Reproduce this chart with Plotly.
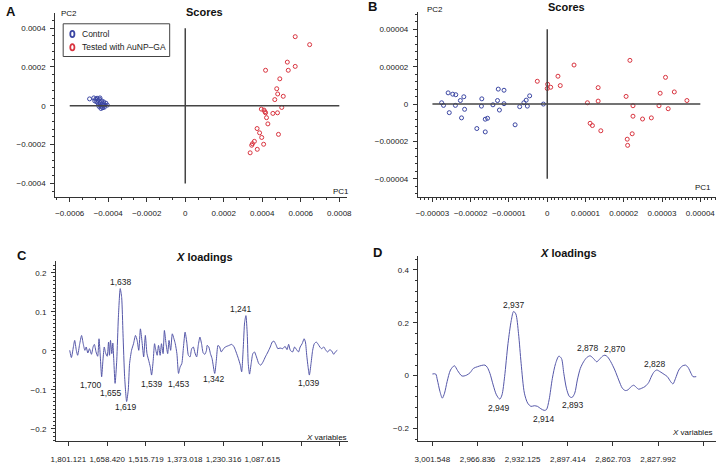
import plotly.graph_objects as go

FONT = "Arial, Liberation Sans, sans-serif"
BLUE = "#3b46a3"
RED = "#d9343f"
LINE = "#5557a8"
AX = "#333333"

# ---------------- Panel A: scores ----------------
a_ctrl_pc1 = [-0.000497, -0.000475, -0.00047, -0.000458, -0.000453, -0.000446, -0.000441, -0.000451,
              -0.000444, -0.000436, -0.000431, -0.000424, -0.000419, -0.000412, -0.000405, -0.000429,
              -0.000438, -0.000434, -0.000443, -0.000448, -0.000427, -0.00042, -0.00046, -0.000465]
a_ctrl_pc2 = [0.0000356, 0.0000407, 0.0000254, 0.000039, 0.0000288, 0.0000339, 0.000017, 0.0000102,
              0.0000034, -0.0000034, 0.0000102, 0.0000203, 0.0000034, 0.0000136, 0.0000034, -0.0000102,
              -0.0000136, 0.0000254, 0.0000407, -0.000003, 0.0, -0.000007, 0.00002, 0.000034]
a_test_pc1 = [0.000571, 0.000646, 0.00053, 0.000571, 0.000535, 0.000417, 0.000491, 0.000475, 0.00048,
              0.000509, 0.000465, 0.000501, 0.000395, 0.000409, 0.000414, 0.000417, 0.000455, 0.000479,
              0.000422, 0.000429, 0.000373, 0.000386, 0.000397, 0.000484, 0.000359, 0.000349, 0.000345,
              0.000407, 0.000374, 0.000337]
a_test_pc2 = [0.000356, 0.000315, 0.000225, 0.000203, 0.000183, 0.000183, 0.000139, 0.000088, 0.000061,
              0.000049, 0.000032, -0.0000085, -0.000017, -0.000022, -0.000031, -0.000036, -0.000039,
              -0.000036, -0.000061, -0.000093, -0.000117, -0.000139, -0.000163, -0.000147, -0.000183,
              -0.000195, -0.000203, -0.000198, -0.000224, -0.000242]
a_xticks = [-0.0006, -0.0004, -0.0002, 0, 0.0002, 0.0004, 0.0006, 0.0008]
a_xtext = ["\u22120.0006", "\u22120.0004", "\u22120.0002", "0", "0.0002", "0.0004", "0.0006", "0.0008"]
a_yticks = [-0.0004, -0.0002, 0, 0.0002, 0.0004]
a_ytext = ["\u22120.0004", "\u22120.0002", "0", "0.0002", "0.0004"]
group_names = ["Control", "Tested with AuNP\u2013GA"]

# ---------------- Panel B: scores ----------------
b_ctrl_pc1 = [-0.0000276, -0.0000271, -0.0000259, -0.0000256, -0.0000247, -0.0000239, -0.000024,
              -0.0000227, -0.0000224, -0.0000218, -0.0000216, -0.0000184, -0.0000171, -0.0000172,
              -0.0000162, -0.0000156, -0.0000162, -0.0000142, -0.000013, -0.0000128, -0.0000125,
              -0.0000113, -0.0000113, -0.0000084, -0.0000072, -0.0000061, -0.0000055, -0.0000052,
              -0.0000046, -0.000001]
b_ctrl_pc2 = [0.0000007, -0.0000007, 0.000006, -0.0000046, 0.0000053, 0.000005, -0.0000007,
              0.0000019, -0.0000074, 0.0000039, -0.0000028, -0.0000131, 0.0000028, -0.0000011,
              -0.0000081, -0.0000076, -0.0000149, -0.0000004, 0.0000019, 0.000008, -0.0000032,
              0.0000074, 0.0000002, -0.0000111, -0.0000014, 0.0000007, 0.0000021, -0.0000011,
              0.0000044, 0.0]
b_test_pc1 = [-0.0000026, 0.0000001, 0.0, 0.0000009, 0.0000028, 0.0000034, 0.000007, 0.0000105,
              0.0000112, 0.0000118, 0.0000133, 0.0000133, 0.000014, 0.0000206, 0.0000209, 0.000021,
              0.0000216, 0.0000222, 0.0000224, 0.0000224, 0.0000249, 0.0000272, 0.0000292, 0.0000295,
              0.0000309, 0.0000316, 0.0000332, 0.0000365]
b_test_pc2 = [0.0000122, 0.0000106, 0.0000083, 0.000009, 0.0000149, 0.0000099, 0.0000209, 0.0000007,
              -0.0000103, -0.0000115, 0.0000088, 0.0000016, -0.0000143, 0.0000041, -0.0000188, -0.0000221,
              0.0000234, -0.0000159, -0.0000065, -0.0000009, -0.000008, -0.0000074, -0.0000009,
              0.0000058, 0.0000143, -0.0000025, 0.0000065, 0.0000019]
b_xticks = [-0.00003, -0.00002, -0.00001, 0, 0.00001, 0.00002, 0.00003, 0.00004]
b_xtext = ["\u22120.00003", "\u22120.00002", "\u22120.00001", "0", "0.00001", "0.00002", "0.00003", "0.00004"]
b_yticks = [-0.00004, -0.00002, 0, 0.00002, 0.00004]
b_ytext = ["\u22120.00004", "\u22120.00002", "0", "0.00002", "0.00004"]

# ---------------- Panel C: X loadings (fingerprint region) ----------------
c_var = [1796.2, 1790.1, 1782.8, 1778.0, 1772.0, 1767.1, 1759.9, 1752.6, 1746.6, 1740.5, 1735.7, 1729.6,
         1723.6, 1716.3, 1710.3, 1705.5, 1699.4, 1693.4, 1688.5, 1683.7, 1678.8, 1674.0, 1669.2, 1664.3,
         1658.3, 1653.4, 1649.8, 1646.2, 1641.4, 1637.7, 1634.1, 1629.3, 1623.2, 1617.2, 1610.5, 1605.1,
         1600.2, 1594.2, 1586.9, 1580.9, 1576.0, 1568.8, 1561.5, 1554.3, 1548.2, 1542.2, 1536.2, 1530.1,
         1524.1, 1518.0, 1512.0, 1505.9, 1499.9, 1495.0, 1489.0, 1484.1, 1479.3, 1474.5, 1469.6, 1463.6,
         1458.7, 1452.7, 1447.9, 1441.8, 1435.8, 1430.9, 1424.9, 1418.8, 1412.8, 1407.9, 1401.9, 1395.9,
         1389.8, 1383.8, 1377.7, 1371.7, 1365.6, 1359.6, 1353.5, 1347.5, 1341.4, 1335.4, 1329.3, 1323.3,
         1317.2, 1311.2, 1305.1, 1299.1, 1293.0, 1290.6, 1284.6, 1278.5, 1272.5, 1262.8, 1256.8, 1250.7,
         1244.7, 1238.6, 1232.6, 1224.1, 1212.0, 1199.9, 1191.4, 1184.2, 1175.7, 1168.5, 1163.6, 1157.6,
         1152.7, 1147.9, 1143.1, 1139.4, 1134.6, 1128.6, 1122.5, 1116.5, 1109.2, 1100.7, 1093.5, 1085.0,
         1076.5, 1066.9, 1058.4, 1051.2, 1045.1, 1037.9, 1030.6, 1022.1, 1012.5, 1004.0, 996.7, 990.7,
         984.6, 976.2, 968.9, 961.7, 954.4, 948.4, 941.1, 933.8, 929.0, 924.2, 919.3, 914.5, 908.4,
         902.4, 896.4, 889.1, 881.8, 875.8, 869.7, 861.3, 854.0, 846.8, 839.5, 832.3, 825.0, 819.0, 811.7]
c_load = [0.0017, -0.0169, 0.0102, 0.0271, 0.0017, -0.011, 0.0169, 0.0398, 0.0186, 0.0017, 0.0102, -0.0051,
          0.0059, -0.0085, 0.0102, 0.0169, -0.0025, -0.0136, 0.0313, -0.0152, -0.0661, -0.0237, 0.0102,
          -0.0051, -0.0136, 0.0229, -0.011, 0.0271, -0.0068, 0.0203, -0.0237, -0.083, -0.0237, 0.0864,
          0.160, 0.1372, 0.044, -0.0661, -0.1296, -0.0999, -0.0322, 0.0017, 0.0186, 0.0398, 0.0271, 0.0017,
          0.0567, 0.0229, -0.0152, 0.0398, -0.0068, -0.0237, -0.0407, -0.0618, -0.0237, 0.0186, 0.0017,
          -0.011, 0.0144, -0.011, 0.0186, -0.0068, 0.0525, 0.0186, -0.0068, 0.0271, 0.0017, 0.044, 0.0313,
          0.0186, -0.0068, -0.0576, -0.0407, -0.0322, 0.0102, 0.0483, 0.0229, -0.011, -0.0152, 0.0059,
          0.0102, -0.0051, -0.0152, 0.0144, 0.0356, 0.0186, -0.0051, -0.0085, 0.0017, 0.0144, 0.0102,
          -0.0068, -0.0195, -0.0576, -0.0237, 0.0144, 0.0102, -0.0025, 0.0034, 0.0102, 0.0136, 0.0169,
          0.0102, -0.0025, -0.0195, -0.0364, -0.0534, 0.0102, 0.0737, 0.0906, 0.044, -0.0322, -0.0593,
          -0.0322, -0.0068, -0.0025, -0.0152, -0.0322, -0.0364, -0.028, -0.0152, -0.0025, 0.0102, 0.0229,
          0.0254, 0.0169, 0.0059, 0.0076, 0.0059, 0.0119, 0.0034, 0.0169, 0.0017, -0.0025, 0.0102, 0.0034,
          -0.0025, 0.0102, 0.0186, 0.0313, 0.0229, -0.011, -0.0407, -0.0618, -0.0322, 0.0017, 0.0186,
          0.0229, 0.0169, 0.0102, 0.0059, 0.0102, 0.0017, -0.0025, 0.0034, 0.0, -0.0085, -0.0025, 0.0017]
c_xticks = [1801.121, 1658.420, 1515.719, 1373.018, 1230.316, 1087.615, 944.914, 802.213]
c_xtext = ["1,801.121", "1,658.420", "1,515.719", "1,373.018", "1,230.316", "1,087.615", "", ""]
c_yticks = [-0.2, -0.1, 0, 0.1, 0.2]
c_ytext = ["\u22120.2", "\u22120.1", "0", "0.1", "0.2"]
c_peak_text = ["1,638", "1,700", "1,655", "1,619", "1,539", "1,453", "1,342", "1,241", "1,039"]
c_peak_x = [1608.8, 1717.7, 1645.1, 1589.5, 1495.1, 1393.5, 1264.1, 1166.1, 914.6]
c_peak_y = [0.177, -0.088, -0.1076, -0.1448, -0.0855, -0.0855, -0.0728, 0.1067, -0.083]

# ---------------- Panel D: X loadings (C-H stretching region) ----------------
d_var = [3001.5, 2999.0, 2997.7, 2995.7, 2993.9, 2992.2, 2990.2, 2987.6, 2984.6, 2982.1, 2978.8, 2975.5,
         2972.5, 2970.0, 2966.9, 2963.6, 2961.1, 2959.3, 2957.3, 2954.8, 2952.3, 2949.7, 2948.0, 2946.0,
         2943.4, 2940.9, 2939.1, 2937.4, 2935.3, 2933.3, 2930.8, 2928.3, 2925.7, 2923.2, 2920.7, 2918.2,
         2915.6, 2913.9, 2911.8, 2909.3, 2906.8, 2904.3, 2902.3, 2900.5, 2898.5, 2896.2, 2894.2, 2892.1,
         2890.1, 2887.8, 2885.3, 2882.8, 2880.3, 2877.7, 2875.2, 2873.2, 2870.7, 2868.9, 2866.9, 2864.4,
         2861.3, 2858.3, 2855.5, 2853.2, 2851.2, 2848.7, 2846.7, 2844.9, 2842.9, 2840.6, 2838.1, 2835.3,
         2833.0, 2831.0, 2829.0, 2826.5, 2823.4, 2820.9, 2818.4, 2816.6, 2814.6, 2812.1, 2809.5, 2807.0,
         2805.0, 2802.7, 2801.2, 2798.7]
d_load = [0.0063, 0.0063, -0.0163, -0.06, -0.085, -0.0663, -0.0225, 0.0213, 0.0375, 0.0188, -0.0013,
          0.0013, 0.0113, 0.0275, 0.0338, 0.0388, 0.04, 0.0313, 0.0088, -0.035, -0.0725, -0.0888, -0.0725,
          -0.0038, 0.1213, 0.2088, 0.243, 0.2338, 0.1588, 0.0463, -0.0663, -0.1038, -0.1163, -0.1138,
          -0.1163, -0.125, -0.1313, -0.1288, -0.0913, -0.01, 0.0463, 0.0738, 0.065, 0.0088, -0.0475,
          -0.0788, -0.0825, -0.0663, -0.0163, 0.0275, 0.0525, 0.0688, 0.075, 0.065, 0.0525, 0.0613, 0.0738,
          0.0775, 0.0713, 0.0525, 0.0213, -0.0163, -0.0475, -0.0563, -0.0538, -0.0413, -0.0363, -0.0438,
          -0.0513, -0.0475, -0.0413, -0.0263, -0.0013, 0.015, 0.0213, 0.015, 0.005, -0.0038, -0.0225,
          -0.0313, -0.01, 0.0213, 0.0363, 0.04, 0.0313, 0.0088, -0.0038, -0.0038]
d_xticks = [3001.548, 2966.836, 2932.125, 2897.414, 2862.703, 2827.992, 2793.281]
d_xtext = ["3,001.548", "2,966.836", "2,932.125", "2,897.414", "2,862.703", "2,827.992", ""]
d_yticks = [-0.2, 0, 0.2, 0.4]
d_ytext = ["\u22120.2", "0", "0.2", "0.4"]
d_peak_text = ["2,937", "2,949", "2,914", "2,893", "2,878", "2,870", "2,828"]
d_peak_x = [2938.5, 2950.1, 2915.8, 2893.8, 2882.2, 2861.3, 2830.3]
d_peak_y = [0.266, -0.121, -0.164, -0.111, 0.105, 0.101, 0.045]

W, H = 722, 464


def px(x):
    return x / W


def py(y):
    return 1 - y / H


fig = go.Figure()

mk = dict(symbol="circle-open", size=4, line=dict(width=1))
# Panel A
fig.add_trace(go.Scatter(x=a_ctrl_pc1, y=a_ctrl_pc2, mode="markers", xaxis="x", yaxis="y",
                         name=group_names[0], marker=dict(color=BLUE, **mk)))
fig.add_trace(go.Scatter(x=a_test_pc1, y=a_test_pc2, mode="markers", xaxis="x", yaxis="y",
                         name=group_names[1], marker=dict(color=RED, **mk)))
# Panel B
fig.add_trace(go.Scatter(x=b_ctrl_pc1, y=b_ctrl_pc2, mode="markers", xaxis="x2", yaxis="y2",
                         name=group_names[0], marker=dict(color=BLUE, **mk)))
fig.add_trace(go.Scatter(x=b_test_pc1, y=b_test_pc2, mode="markers", xaxis="x2", yaxis="y2",
                         name=group_names[1], marker=dict(color=RED, **mk)))
# Panel C
fig.add_trace(go.Scatter(x=c_var, y=c_load, mode="lines", xaxis="x3", yaxis="y3",
                         line=dict(color=LINE, width=1, shape="spline", smoothing=0.6)))
# Panel D
fig.add_trace(go.Scatter(x=d_var, y=d_load, mode="lines", xaxis="x4", yaxis="y4",
                         line=dict(color=LINE, width=1, shape="spline", smoothing=0.8)))

tickfont = dict(family=FONT, size=8, color="#222")


def axis(domain, rng, tv, tt, anchor, minor_dtick=None, standoff=0):
    d = dict(domain=domain, range=rng, tickmode="array", tickvals=tv, ticktext=tt,
             showline=True, linecolor=AX, linewidth=1, ticks="outside", ticklen=4,
             tickcolor=AX, tickwidth=1, showgrid=False, zeroline=False, tickfont=tickfont,
             anchor=anchor, fixedrange=True, ticklabelstandoff=standoff)
    if minor_dtick:
        d["minor"] = dict(dtick=minor_dtick, tick0=0, ticks="outside", ticklen=2,
                          tickcolor=AX, showgrid=False)
    return d


fig.update_layout(
    width=W, height=H, margin=dict(l=0, r=0, t=0, b=0),
    paper_bgcolor="white", plot_bgcolor="white", showlegend=False,
    font=dict(family=FONT, size=9, color="#222"),
    xaxis=axis([px(51), px(347)], [-0.000675, 0.000841], a_xticks, a_xtext, "y", 0.0002 / 3, 4),
    yaxis=axis([py(199), py(13.3)], [-0.000471, 0.000477], a_yticks, a_ytext, "x", 0.00004, 3),
    xaxis2=axis([px(418.7), px(721)], [-0.0000338, 0.0000441], b_xticks, b_xtext, "y2", 0.000001, 4),
    yaxis2=axis([py(199), py(11.7)], [-0.0000499, 0.0000495], b_yticks, b_ytext, "x2", 0.000004, 3),
    xaxis3=axis([px(51.7), px(348.3)], [1846.8, 770.6], c_xticks, c_xtext, "y3", None, 6),
    yaxis3=axis([py(445.3), py(263.7)], [-0.232, 0.2296], c_yticks, c_ytext, "x3", 0.01, 3),
    xaxis4=axis([px(419.3), px(721)], [3012.2, 2783.5], d_xticks, d_xtext, "y4", None, 6),
    yaxis4=axis([py(445.3), py(258.7)], [-0.249, 0.451], d_yticks, d_ytext, "x4", 0.04, 3),
)

# zero reference lines in score plots
shapes = []
for xr, yr, xt, yt in [("x", "y", a_xticks, a_yticks), ("x2", "y2", b_xticks, b_yticks)]:
    shapes.append(dict(type="line", xref=xr, yref=yr, x0=xt[0], x1=xt[-1], y0=0, y1=0,
                       line=dict(color="#444", width=1.5)))
    shapes.append(dict(type="line", xref=xr, yref=yr, x0=0, x1=0, y0=yt[0], y1=yt[-1],
                       line=dict(color="#444", width=1.5)))

# legend box for panel A (compact, drawn manually)
shapes.append(dict(type="rect", xref="paper", yref="paper", x0=px(59), x1=px(167), y0=py(57), y1=py(24),
                   line=dict(color="#444", width=1), fillcolor="white", layer="above"))
ann = []
for i, (nm, col) in enumerate(zip(group_names, [BLUE, RED])):
    yc = 34.3 + 13.4 * i
    shapes.append(dict(type="circle", xref="paper", yref="paper", x0=px(66.2), x1=px(70.4),
                       y0=py(yc + 3.1), y1=py(yc - 3.1), line=dict(color=col, width=1.8), layer="above"))
    ann.append(dict(text=nm, x=px(76), y=py(yc), xref="paper", yref="paper", showarrow=False,
                    xanchor="left", yanchor="middle", font=dict(family=FONT, size=8.5, color="#222")))
fig.update_layout(shapes=shapes)


def pa(text, x, y, size=9, bold=False, xanchor="center"):
    ann.append(dict(text=f"<b>{text}</b>" if bold else text, x=px(x), y=py(y), xref="paper", yref="paper",
                    showarrow=False, xanchor=xanchor, yanchor="middle",
                    font=dict(family=FONT, size=size, color="#111")))


# panel letters
pa("A", 6, 12, 13, True)
pa("B", 373, 7, 13, True)
pa("C", 17, 258, 13, True)
pa("D", 378, 255, 13, True)
# titles
pa("Scores", 202, 12, 11, True)
pa("Scores", 569, 7.5, 11, True)
pa("<i>X</i> loadings", 202, 259, 11, True)
pa("<i>X</i> loadings", 571, 255, 11, True)
# axis names
pa("PC2", 65, 14, 8)
pa("PC2", 436, 9.5, 8)
pa("PC1", 341, 193, 8)
pa("PC1", 708, 189.5, 8)
pa("<i>X</i> variables", 349, 441, 8, xanchor="right")
pa("<i>X</i> variables", 720, 436, 8, xanchor="right")

for t, x, y in zip(c_peak_text, c_peak_x, c_peak_y):
    ann.append(dict(text=t, x=x, y=y, xref="x3", yref="y3", showarrow=False,
                    font=dict(family=FONT, size=8.5, color="#222")))
for t, x, y in zip(d_peak_text, d_peak_x, d_peak_y):
    ann.append(dict(text=t, x=x, y=y, xref="x4", yref="y4", showarrow=False,
                    font=dict(family=FONT, size=8.5, color="#222")))
fig.update_layout(annotations=ann)

fig.write_html("out.html", config={"displayModeBar": False},
               post_script="document.body.style.margin='0';document.body.style.padding='0';"
                           "document.body.style.overflow='hidden';")
